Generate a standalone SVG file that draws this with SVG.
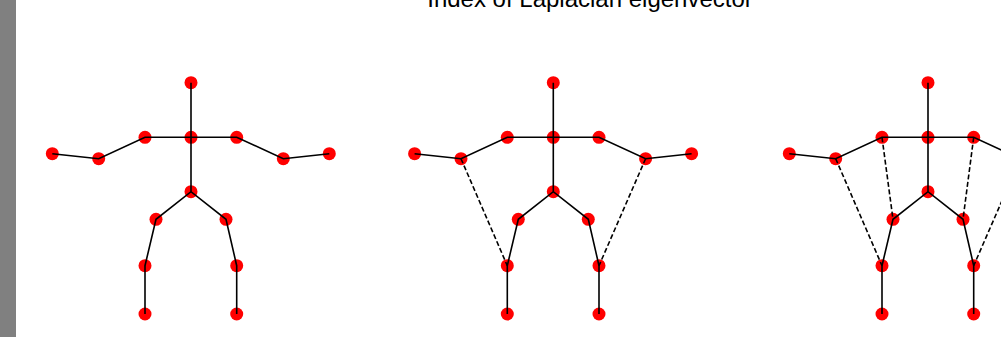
<svg xmlns="http://www.w3.org/2000/svg" width="1001" height="337" viewBox="0 0 1001 337">
<style>
.n{fill:#ff0000}
.e{stroke:#000;stroke-width:1.6;fill:none;stroke-linecap:butt}
.d{stroke:#000;stroke-width:1.6;fill:none;stroke-dasharray:5,2.5}
.t{font-family:"Liberation Sans",Arial,sans-serif;font-size:24px;fill:#000}
</style>
<rect x="0" y="0" width="1001" height="337" fill="#fff"/>
<rect x="0" y="0" width="16" height="337" fill="#808080"/>
<text class="t" x="590" y="7" text-anchor="middle">Index of Laplacian eigenvector</text>

<!-- Graph 1 -->
<g id="graph1" transform="translate(191,0)">
  <g id="g1-head"><circle class="n" cx="0" cy="82.7" r="6.5"/></g>
  <g id="g1-neck"><circle class="n" cx="0" cy="137.3" r="6.5"/></g>
  <g id="g1-lshoulder"><circle class="n" cx="-46" cy="137.3" r="6.5"/></g>
  <g id="g1-lelbow"><circle class="n" cx="-92.3" cy="158.7" r="6.5"/></g>
  <g id="g1-lhand"><circle class="n" cx="-138.7" cy="153.7" r="6.5"/></g>
  <g id="g1-rshoulder"><circle class="n" cx="45.7" cy="137.3" r="6.5"/></g>
  <g id="g1-relbow"><circle class="n" cx="92.3" cy="158.7" r="6.5"/></g>
  <g id="g1-rhand"><circle class="n" cx="138.3" cy="153.7" r="6.5"/></g>
  <g id="g1-pelvis"><circle class="n" cx="0" cy="191.7" r="6.5"/></g>
  <g id="g1-lhip"><circle class="n" cx="-35" cy="219.3" r="6.5"/></g>
  <g id="g1-lknee"><circle class="n" cx="-46" cy="265.7" r="6.5"/></g>
  <g id="g1-lfoot"><circle class="n" cx="-46" cy="314" r="6.5"/></g>
  <g id="g1-rhip"><circle class="n" cx="35" cy="219.3" r="6.5"/></g>
  <g id="g1-rknee"><circle class="n" cx="45.7" cy="265.7" r="6.5"/></g>
  <g id="g1-rfoot"><circle class="n" cx="45.7" cy="314" r="6.5"/></g>
  <g id="g1-connectors">
    <path class="e" d="M0,82.7V191.7M-138.7,153.7L-92.3,158.7L-46,137.3H45.7L92.3,158.7L138.3,153.7M-46,314V265.7L-35,219.3L0,191.7L35,219.3L45.7,265.7V314"/>
  </g>
</g>

<!-- Graph 2 -->
<g id="graph2" transform="translate(553.3,0)">
  <g id="g2-head"><circle class="n" cx="0" cy="82.7" r="6.5"/></g>
  <g id="g2-neck"><circle class="n" cx="0" cy="137.3" r="6.5"/></g>
  <g id="g2-lshoulder"><circle class="n" cx="-46" cy="137.3" r="6.5"/></g>
  <g id="g2-lelbow"><circle class="n" cx="-92.3" cy="158.7" r="6.5"/></g>
  <g id="g2-lhand"><circle class="n" cx="-138.7" cy="153.7" r="6.5"/></g>
  <g id="g2-rshoulder"><circle class="n" cx="45.7" cy="137.3" r="6.5"/></g>
  <g id="g2-relbow"><circle class="n" cx="92.3" cy="158.7" r="6.5"/></g>
  <g id="g2-rhand"><circle class="n" cx="138.3" cy="153.7" r="6.5"/></g>
  <g id="g2-pelvis"><circle class="n" cx="0" cy="191.7" r="6.5"/></g>
  <g id="g2-lhip"><circle class="n" cx="-35" cy="219.3" r="6.5"/></g>
  <g id="g2-lknee"><circle class="n" cx="-46" cy="265.7" r="6.5"/></g>
  <g id="g2-lfoot"><circle class="n" cx="-46" cy="314" r="6.5"/></g>
  <g id="g2-rhip"><circle class="n" cx="35" cy="219.3" r="6.5"/></g>
  <g id="g2-rknee"><circle class="n" cx="45.7" cy="265.7" r="6.5"/></g>
  <g id="g2-rfoot"><circle class="n" cx="45.7" cy="314" r="6.5"/></g>
  <g id="g2-connectors">
    <path class="e" d="M0,82.7V191.7M-138.7,153.7L-92.3,158.7L-46,137.3H45.7L92.3,158.7L138.3,153.7M-46,314V265.7L-35,219.3L0,191.7L35,219.3L45.7,265.7V314"/>
    <path class="d" d="M-92.3,158.7L-46,265.7M92.3,158.7L45.7,265.7"/>
  </g>
</g>

<!-- Graph 3 -->
<g id="graph3" transform="translate(928,0)">
  <g id="g3-head"><circle class="n" cx="0" cy="82.7" r="6.5"/></g>
  <g id="g3-neck"><circle class="n" cx="0" cy="137.3" r="6.5"/></g>
  <g id="g3-lshoulder"><circle class="n" cx="-46" cy="137.3" r="6.5"/></g>
  <g id="g3-lelbow"><circle class="n" cx="-92.3" cy="158.7" r="6.5"/></g>
  <g id="g3-lhand"><circle class="n" cx="-138.7" cy="153.7" r="6.5"/></g>
  <g id="g3-rshoulder"><circle class="n" cx="45.7" cy="137.3" r="6.5"/></g>
  <g id="g3-relbow"><circle class="n" cx="92.3" cy="158.7" r="6.5"/></g>
  <g id="g3-rhand"><circle class="n" cx="138.3" cy="153.7" r="6.5"/></g>
  <g id="g3-pelvis"><circle class="n" cx="0" cy="191.7" r="6.5"/></g>
  <g id="g3-lhip"><circle class="n" cx="-35" cy="219.3" r="6.5"/></g>
  <g id="g3-lknee"><circle class="n" cx="-46" cy="265.7" r="6.5"/></g>
  <g id="g3-lfoot"><circle class="n" cx="-46" cy="314" r="6.5"/></g>
  <g id="g3-rhip"><circle class="n" cx="35" cy="219.3" r="6.5"/></g>
  <g id="g3-rknee"><circle class="n" cx="45.7" cy="265.7" r="6.5"/></g>
  <g id="g3-rfoot"><circle class="n" cx="45.7" cy="314" r="6.5"/></g>
  <g id="g3-connectors">
    <path class="e" d="M0,82.7V191.7M-138.7,153.7L-92.3,158.7L-46,137.3H45.7L92.3,158.7L138.3,153.7M-46,314V265.7L-35,219.3L0,191.7L35,219.3L45.7,265.7V314"/>
    <path class="d" d="M-92.3,158.7L-46,265.7M92.3,158.7L45.7,265.7M-46,137.3L-35,219.3M45.7,137.3L35,219.3"/>
  </g>
</g>
</svg>
